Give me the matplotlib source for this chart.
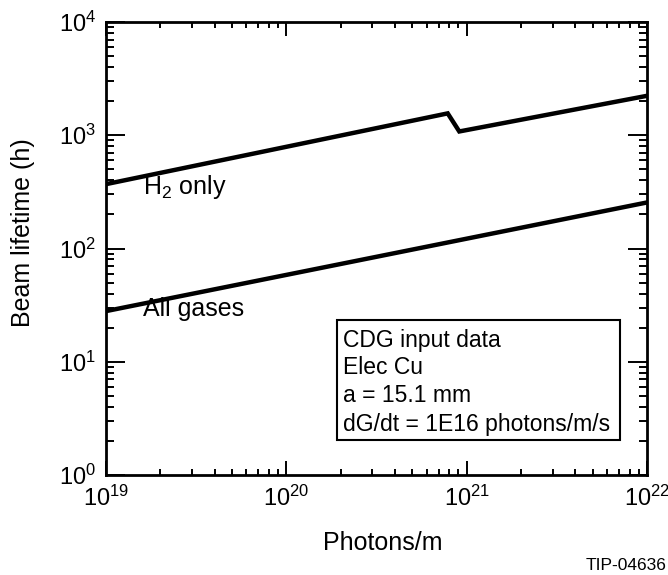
import matplotlib
matplotlib.use("Agg")
import matplotlib.pyplot as plt
from matplotlib.patches import Rectangle
from matplotlib.ticker import LogLocator, FixedLocator, NullFormatter

plt.rcParams['font.family'] = ['Liberation Sans', 'DejaVu Sans']
plt.rcParams['mathtext.fontset'] = 'custom'
plt.rcParams['mathtext.rm'] = 'Liberation Sans'
plt.rcParams['mathtext.it'] = 'Liberation Sans'

# H2-only lifetime (with the step near 1e21 photons/m)
h2_x = [1e19, 7.85e20, 9.1e20, 1e22]
h2_y = [370, 1560, 1080, 2230]

# All-gases lifetime
all_x = [1e19, 1e22]
all_y = [28, 255]

x_ticks = [1e19, 1e20, 1e21, 1e22]
x_labels = [r'$10^{19}$', r'$10^{20}$', r'$10^{21}$', r'$10^{22}$']
y_ticks = [1e0, 1e1, 1e2, 1e3, 1e4]
y_labels = [r'$10^{0}$', r'$10^{1}$', r'$10^{2}$', r'$10^{3}$', r'$10^{4}$']

info_lines = ["CDG input data", "Elec Cu", "a = 15.1 mm",
              "dG/dt = 1E16 photons/m/s"]

W, H = 668, 575
fig = plt.figure(figsize=(W / 100, H / 100), dpi=100)
ax = fig.add_axes([106 / W, 1 - 475 / H, 541 / W, 453 / H])

ax.plot(h2_x, h2_y, color='black', lw=3.2, solid_joinstyle='miter')
ax.plot(all_x, all_y, color='black', lw=3.2)

ax.set_xscale('log')
ax.set_yscale('log')
ax.set_xlim(1e19, 1e22)
ax.set_ylim(1e0, 1e4)

ax.xaxis.set_major_locator(FixedLocator(x_ticks))
ax.set_xticklabels(x_labels)
ax.yaxis.set_major_locator(FixedLocator(y_ticks))
ax.set_yticklabels(y_labels)
ax.xaxis.set_minor_locator(LogLocator(base=10, subs=range(2, 10), numticks=20))
ax.yaxis.set_minor_locator(LogLocator(base=10, subs=range(2, 10), numticks=20))
ax.xaxis.set_minor_formatter(NullFormatter())
ax.yaxis.set_minor_formatter(NullFormatter())

for s in ax.spines.values():
    s.set_linewidth(2.0)

ax.tick_params(axis='both', which='both', direction='in', top=True, right=True,
               labelsize=17, width=1.4, colors='black')
ax.tick_params(axis='y', which='major', length=14, pad=7)
ax.tick_params(axis='y', which='minor', length=6)
ax.tick_params(axis='x', which='major', length=10, pad=8)
ax.tick_params(axis='x', which='minor', length=4.5)

fig.text(383 / W, 1 - 543 / H, 'Photons/m', fontsize=18, ha='center', va='center')
fig.text(23 / W, 1 - 233 / H, 'Beam lifetime (h)', fontsize=18, rotation=90,
         ha='center', va='center')

ax.text(1.6e19, 300, r'H$_2$ only', fontsize=18, ha='left', va='baseline')
ax.text(1.6e19, 25.5, 'All gases', fontsize=18, ha='left', va='baseline')

# parameter box
bx0, bx1, by0, by1 = 337, 620, 320, 440
ax.add_patch(Rectangle(((bx0 - 106) / 541, (475 - by1) / 453),
                       (bx1 - bx0) / 541, (by1 - by0) / 453,
                       transform=ax.transAxes, fc='white', ec='black', lw=1.5,
                       zorder=3))
for i, line in enumerate(info_lines):
    ypix = 340 + 28 * i
    ax.text((343 - 106) / 541, (475 - ypix) / 453, line, transform=ax.transAxes,
            fontsize=16.5, ha='left', va='center', zorder=4)

fig.text(666 / W, 1 - 565 / H, 'TIP-04636', fontsize=12.5, ha='right', va='center')

fig.savefig('out.png', dpi=100)
